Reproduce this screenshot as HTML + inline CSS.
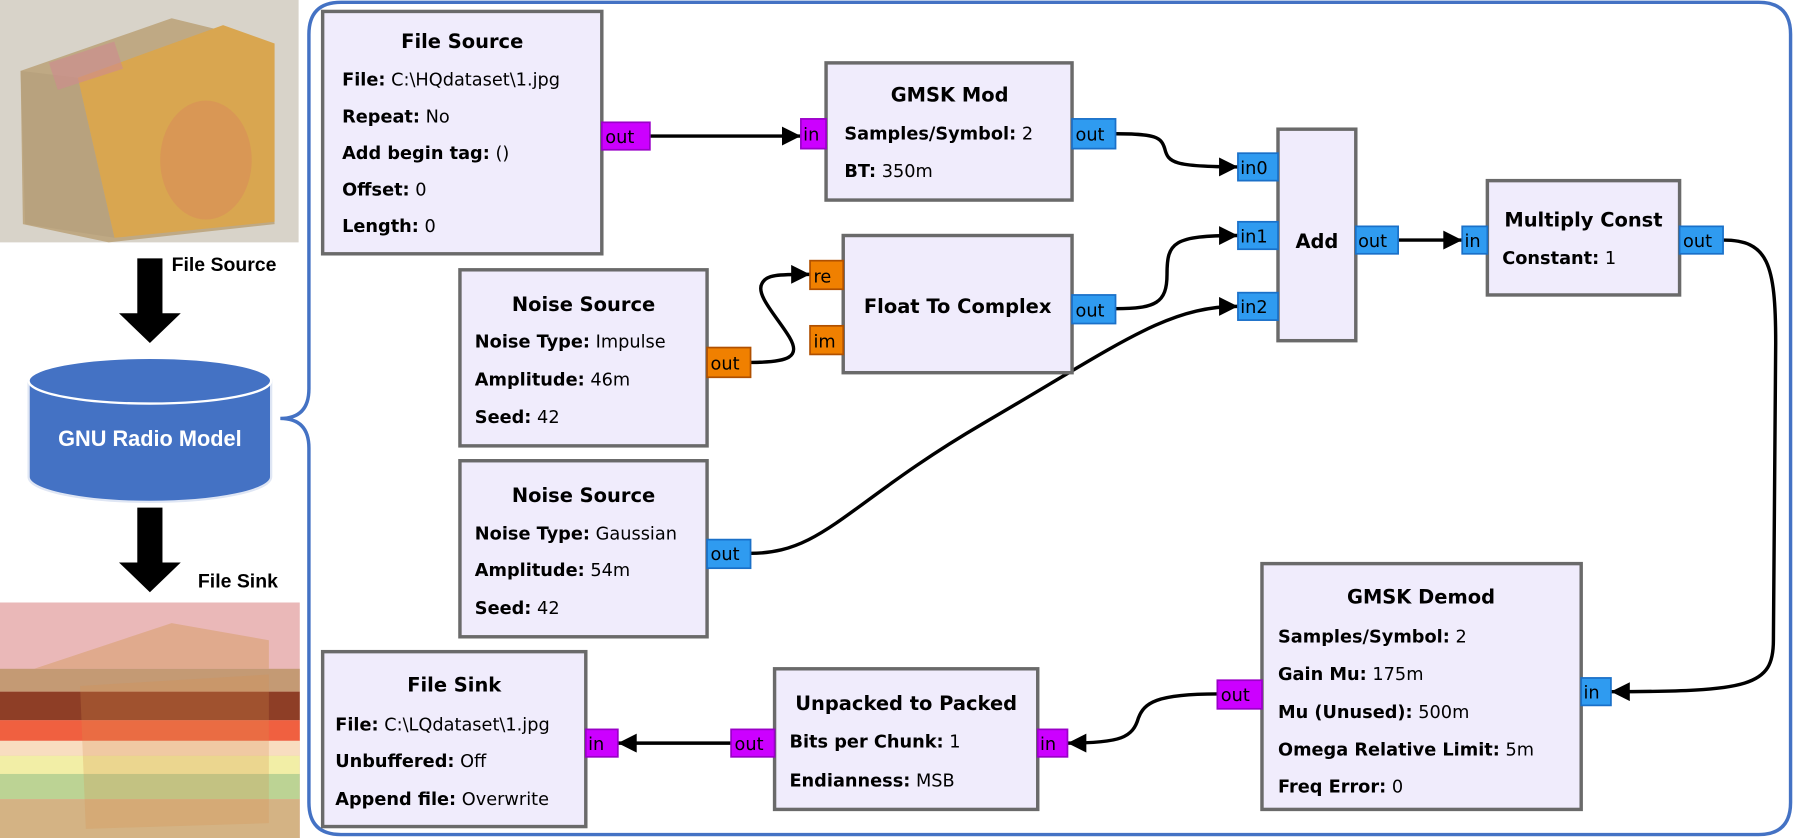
<!DOCTYPE html>
<html><head><meta charset="utf-8"><style>
html,body{margin:0;padding:0;background:#fff;}
svg{display:block}
text{font-family:"DejaVu Sans","Liberation Sans",sans-serif;fill:#000}
.t{font-weight:bold;font-size:17px;text-anchor:middle}
.r{font-size:15.5px}
.r tspan.b{font-weight:bold}
.blk{fill:#f0ecfc;stroke:#6a6a6a;stroke-width:3}
.pb{fill:#2f9bf0;stroke:#1a70c8;stroke-width:1.5}
.pm{fill:#cc00ff;stroke:#9a00c8;stroke-width:1.5}
.po{fill:#f08000;stroke:#b05000;stroke-width:1.5}
.p{font-size:15.5px}
.w{fill:none;stroke:#000;stroke-width:3;marker-end:url(#ah)}
</style></head><body>
<svg width="1794" height="838" viewBox="0 0 1568 733" xmlns="http://www.w3.org/2000/svg" preserveAspectRatio="none">
<defs>
<marker id="ah" viewBox="0 0 10 10" refX="10" refY="5" markerWidth="6" markerHeight="5.5" orient="auto" markerUnits="strokeWidth"><path d="M0,0 L10,5 L0,10 z" fill="#000"/></marker>
</defs>
<!-- top photo -->
<rect x="0" y="0" width="261" height="212" fill="#d8d3c9"/>
<polygon points="18,62 150,16 232,36 240,196 95,212 20,196" fill="#bfa984"/>
<polygon points="68,68 195,22 240,38 240,194 100,208" fill="#d9a650"/>
<polygon points="18,62 68,68 100,208 22,196" fill="#b8a27e"/>
<ellipse cx="180" cy="140" rx="40" ry="52" fill="#d98a5a" opacity="0.55"/>
<rect x="45" y="45" width="60" height="25" fill="#cf8a90" opacity="0.6" transform="rotate(-18 75 57)"/>
<!-- arrow 1 -->
<rect x="120" y="226" width="22" height="50" fill="#000"/>
<polygon points="104,274 158,274 131,300" fill="#000"/>
<text x="150" y="237" style="font-family:'Liberation Sans',sans-serif;font-weight:bold;font-size:17px">File Source</text>
<!-- cylinder -->
<path d="M25,333 L25,417 A106,22 0 0 0 237,417 L237,333 Z" fill="#4472c4" stroke="#dfe6f4" stroke-width="2"/>
<ellipse cx="131" cy="333" rx="106" ry="20" fill="#4472c4" stroke="#fff" stroke-width="2"/>
<text x="131" y="390" text-anchor="middle" style="font-family:'Liberation Sans',sans-serif;font-weight:bold;font-size:19px;fill:#fff">GNU Radio Model</text>
<!-- arrow 2 -->
<rect x="120" y="444" width="22" height="50" fill="#000"/>
<polygon points="104,492 158,492 131,518" fill="#000"/>
<text x="173" y="514" style="font-family:'Liberation Sans',sans-serif;font-weight:bold;font-size:17px">File Sink</text>
<!-- bottom photo -->
<rect x="0" y="527" width="262" height="206" fill="#eab8b8"/>
<polygon points="30,585 150,545 235,560 235,585" fill="#d9a070" opacity="0.6"/>
<rect x="0" y="585" width="262" height="20" fill="#c49a74"/>
<rect x="0" y="605" width="262" height="25" fill="#8e3e26"/>
<rect x="0" y="630" width="262" height="18" fill="#f06040"/>
<rect x="0" y="648" width="262" height="13" fill="#f8ddc0"/>
<rect x="0" y="661" width="262" height="16" fill="#f2eea6"/>
<rect x="0" y="677" width="262" height="22" fill="#bcd394"/>
<rect x="0" y="699" width="262" height="34" fill="#d4b384"/>
<polygon points="70,600 235,590 235,720 75,725" fill="#d7914a" opacity="0.25"/>
<!-- frame -->
<path d="M298,2 H1537 Q1565,2 1565,30 V702 Q1565,730 1537,730 H298 Q270,730 270,702 V392 Q270,366 245,366 Q270,366 270,340 V30 Q270,2 298,2 Z" fill="none" stroke="#4472c4" stroke-width="3"/>

<!-- wires -->
<path class="w" d="M568,119 L700,119"/>
<path class="w" d="M975,117 C1010,117 1015,120 1018,130 C1021,142 1025,146 1082,146"/>
<path class="w" d="M975,270 C1010,270 1020,265 1020,240 C1020,212 1025,206 1082,206"/>
<path class="w" d="M656,317 C690,317 700,312 690,295 C680,278 660,258 666,248 C670,240 680,240 708,240"/>
<path class="w" d="M656,484 C720,484 740,440 860,370 C980,300 1020,268 1082,268"/>
<path class="w" d="M1222,210 L1278,210"/>
<path class="w" d="M1506,210 C1545,210 1552,230 1552,300 L1550,560 C1550,600 1530,605 1408,605"/>
<path class="w" d="M1064,607 C1010,607 1000,615 995,628 C990,645 980,650 933,650"/>
<path class="w" d="M639,650 L540,650"/>

<!-- File Source -->
<rect class="blk" x="282" y="10" width="244" height="212"/>
<text class="t" x="404" y="42">File Source</text>
<text class="r" x="299" y="75"><tspan class="b">File:</tspan> C:\HQdataset\1.jpg</text>
<text class="r" x="299" y="107"><tspan class="b">Repeat:</tspan> No</text>
<text class="r" x="299" y="139"><tspan class="b">Add begin tag:</tspan> ()</text>
<text class="r" x="299" y="171"><tspan class="b">Offset:</tspan> 0</text>
<text class="r" x="299" y="203"><tspan class="b">Length:</tspan> 0</text>
<rect class="pm" x="526" y="107" width="42" height="24"/><text class="p" x="529" y="125">out</text>

<!-- GMSK Mod -->
<rect class="blk" x="722" y="55" width="215" height="120"/>
<text class="t" x="830" y="89">GMSK Mod</text>
<text class="r" x="738" y="122"><tspan class="b">Samples/Symbol:</tspan> 2</text>
<text class="r" x="738" y="155"><tspan class="b">BT:</tspan> 350m</text>
<rect class="pm" x="700" y="104" width="22" height="26"/><text class="p" x="702" y="123">in</text>
<rect class="pb" x="937" y="104" width="38" height="26"/><text class="p" x="940" y="123">out</text>

<!-- Add -->
<rect class="blk" x="1117" y="113" width="68" height="185"/>
<text class="t" x="1151" y="217">Add</text>
<rect class="pb" x="1082" y="134" width="35" height="24"/><text class="p" x="1084" y="152">in0</text>
<rect class="pb" x="1082" y="194" width="35" height="24"/><text class="p" x="1084" y="212">in1</text>
<rect class="pb" x="1082" y="256" width="35" height="24"/><text class="p" x="1084" y="274">in2</text>
<rect class="pb" x="1185" y="198" width="37" height="24"/><text class="p" x="1187" y="216">out</text>

<!-- Multiply Const -->
<rect class="blk" x="1300" y="158" width="168" height="100"/>
<text class="t" x="1384" y="198">Multiply Const</text>
<text class="r" x="1313" y="231"><tspan class="b">Constant:</tspan> 1</text>
<rect class="pb" x="1278" y="198" width="22" height="24"/><text class="p" x="1280" y="216">in</text>
<rect class="pb" x="1468" y="198" width="38" height="24"/><text class="p" x="1471" y="216">out</text>

<!-- Float To Complex -->
<rect class="blk" x="737" y="206" width="200" height="120"/>
<text class="t" x="837" y="274">Float To Complex</text>
<rect class="po" x="708" y="228" width="29" height="25"/><text class="p" x="711" y="247">re</text>
<rect class="po" x="708" y="285" width="29" height="25"/><text class="p" x="711" y="304">im</text>
<rect class="pb" x="937" y="258" width="38" height="25"/><text class="p" x="940" y="277">out</text>

<!-- Noise Source 1 -->
<rect class="blk" x="402" y="236" width="216" height="154"/>
<text class="t" x="510" y="272">Noise Source</text>
<text class="r" x="415" y="304"><tspan class="b">Noise Type:</tspan> Impulse</text>
<text class="r" x="415" y="337"><tspan class="b">Amplitude:</tspan> 46m</text>
<text class="r" x="415" y="370"><tspan class="b">Seed:</tspan> 42</text>
<rect class="po" x="618" y="304" width="38" height="26"/><text class="p" x="621" y="323">out</text>

<!-- Noise Source 2 -->
<rect class="blk" x="402" y="403" width="216" height="154"/>
<text class="t" x="510" y="439">Noise Source</text>
<text class="r" x="415" y="472"><tspan class="b">Noise Type:</tspan> Gaussian</text>
<text class="r" x="415" y="504"><tspan class="b">Amplitude:</tspan> 54m</text>
<text class="r" x="415" y="537"><tspan class="b">Seed:</tspan> 42</text>
<rect class="pb" x="618" y="472" width="38" height="25"/><text class="p" x="621" y="490">out</text>

<!-- GMSK Demod -->
<rect class="blk" x="1103" y="493" width="279" height="215"/>
<text class="t" x="1242" y="528">GMSK Demod</text>
<text class="r" x="1117" y="562"><tspan class="b">Samples/Symbol:</tspan> 2</text>
<text class="r" x="1117" y="595"><tspan class="b">Gain Mu:</tspan> 175m</text>
<text class="r" x="1117" y="628"><tspan class="b">Mu (Unused):</tspan> 500m</text>
<text class="r" x="1117" y="661"><tspan class="b">Omega Relative Limit:</tspan> 5m</text>
<text class="r" x="1117" y="693"><tspan class="b">Freq Error:</tspan> 0</text>
<rect class="pm" x="1064" y="595" width="39" height="25"/><text class="p" x="1067" y="613">out</text>
<rect class="pb" x="1382" y="593" width="26" height="24"/><text class="p" x="1384" y="611">in</text>

<!-- Unpacked to Packed -->
<rect class="blk" x="677" y="585" width="230" height="123"/>
<text class="t" x="792" y="621">Unpacked to Packed</text>
<text class="r" x="690" y="654"><tspan class="b">Bits per Chunk:</tspan> 1</text>
<text class="r" x="690" y="688"><tspan class="b">Endianness:</tspan> MSB</text>
<rect class="pm" x="639" y="638" width="38" height="24"/><text class="p" x="642" y="656">out</text>
<rect class="pm" x="907" y="638" width="26" height="24"/><text class="p" x="909" y="656">in</text>

<!-- File Sink -->
<rect class="blk" x="282" y="570" width="230" height="153"/>
<text class="t" x="397" y="605">File Sink</text>
<text class="r" x="293" y="639"><tspan class="b">File:</tspan> C:\LQdataset\1.jpg</text>
<text class="r" x="293" y="671"><tspan class="b">Unbuffered:</tspan> Off</text>
<text class="r" x="293" y="704"><tspan class="b">Append file:</tspan> Overwrite</text>
<rect class="pm" x="512" y="638" width="28" height="24"/><text class="p" x="514" y="656">in</text>
</svg>
</body></html>
